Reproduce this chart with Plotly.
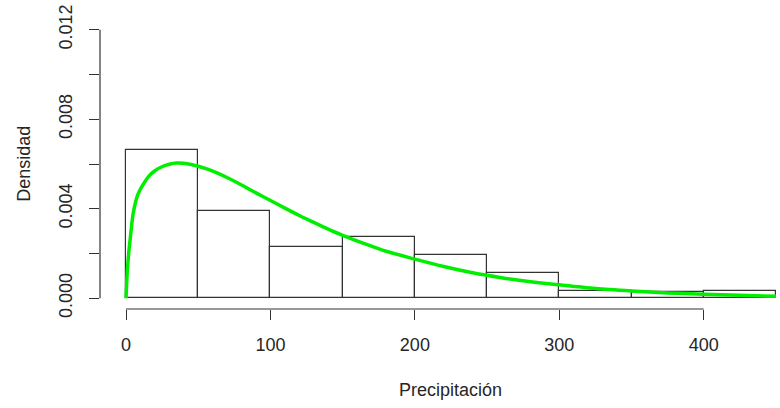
import plotly.graph_objects as go

# Histogram bins (Precipitación) and densities
bin_edges = [0, 50, 100, 150, 200, 250, 300, 350, 400, 450]
bar_density = [0.00663, 0.00391, 0.00230, 0.00273, 0.00194, 0.00115, 0.00031, 0.00029, 0.00033]

curve_x = [0, 1, 2, 3, 5, 8, 12, 16, 20, 26, 30, 35, 40, 45, 50, 56, 63, 72, 81, 90,
           100, 110, 120, 130, 140, 150, 165, 180, 200, 220, 240, 260, 280, 300,
           325, 350, 375, 400, 425, 450]
curve_y = [0.0000, 0.0013, 0.0021, 0.0027, 0.0038, 0.0046, 0.0051, 0.00547, 0.00570,
           0.00591, 0.00599, 0.00604, 0.00603, 0.00598, 0.00590, 0.00578, 0.00560,
           0.00533, 0.00503, 0.00471, 0.00437, 0.00403, 0.00370, 0.00339, 0.00309,
           0.00281, 0.00244, 0.00210, 0.00175, 0.00142, 0.00114, 0.00092, 0.00074,
           0.00060, 0.00044, 0.00033, 0.00024, 0.00018, 0.00013, 0.00009]

x_ticks = [0, 100, 200, 300, 400]
y_ticks = [0.000, 0.002, 0.004, 0.006, 0.008, 0.010, 0.012]
y_ticktext = ["0.000", "", "0.004", "", "0.008", "", "0.012"]

centers = [(a + b) / 2 for a, b in zip(bin_edges[:-1], bin_edges[1:])]
widths = [b - a for a, b in zip(bin_edges[:-1], bin_edges[1:])]

FONT = "Liberation Sans, Arial, sans-serif"
INK = "#262626"
FS = 18

fig = go.Figure()
fig.add_trace(go.Bar(
    x=centers, y=bar_density, width=widths,
    marker=dict(color="white", line=dict(color="#333333", width=1.2)),
    hoverinfo="skip", showlegend=False,
))
fig.add_trace(go.Scatter(
    x=curve_x, y=curve_y, mode="lines",
    line=dict(color="#00ee00", width=3.5, shape="spline", smoothing=0.8),
    showlegend=False,
))

fig.update_layout(
    width=780, height=408,
    margin=dict(l=100, r=0, t=19, b=99, autoexpand=False),
    plot_bgcolor="white", paper_bgcolor="white",
    font=dict(family=FONT, size=FS, color=INK),
    bargap=0,
    xaxis=dict(
        range=[-18, 452.8], showgrid=False, zeroline=False, showline=False,
        automargin=False, ticklabeloverflow="allow",
        tickmode="array", tickvals=x_ticks, ticktext=[str(v) for v in x_ticks],
        ticks="outside", ticklen=10, tickcolor="#333333", tickwidth=1.2,
        ticklabelstandoff=9,
    ),
    yaxis=dict(
        range=[-0.00048, 0.01248], showgrid=False, zeroline=False, showline=False,
        automargin=False, ticklabeloverflow="allow",
        tickmode="array", tickvals=y_ticks, ticktext=y_ticktext,
        ticks="outside", ticklen=10, tickcolor="#333333", tickwidth=1.2,
        tickangle=-90, ticklabelstandoff=10,
    ),
    shapes=[
        dict(type="line", xref="x", yref="paper", x0=x_ticks[0], x1=x_ticks[-1],
             y0=0, y1=0, line=dict(color="#333333", width=1.2)),
        dict(type="line", xref="paper", yref="y", x0=0, x1=0,
             y0=y_ticks[0], y1=y_ticks[-1], line=dict(color="#333333", width=1.2)),
    ],
    annotations=[
        dict(text="Precipitación", xref="x", yref="paper", x=225, y=-0.28,
             xanchor="center", yanchor="middle", showarrow=False,
             font=dict(family=FONT, size=FS, color=INK)),
        dict(text="Densidad", xref="paper", yref="paper", x=-0.112, y=0.5,
             xanchor="center", yanchor="middle", textangle=-90, showarrow=False,
             font=dict(family=FONT, size=FS, color=INK)),
    ],
)

fig.write_html("out.html", config={"displayModeBar": False},
               post_script="document.body.style.margin='0';")
